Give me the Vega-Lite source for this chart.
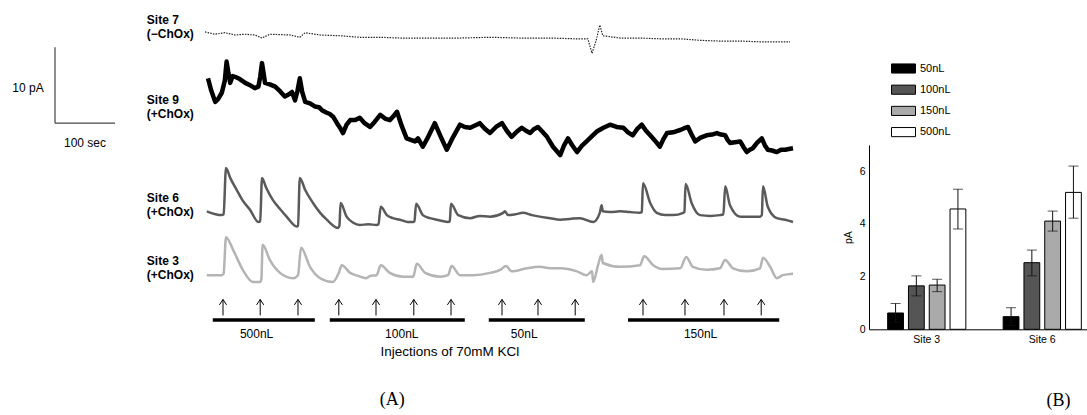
{
  "$schema": "https://vega.github.io/schema/vega-lite/v6.json",
  "padding": 0,
  "autosize": {"type": "pad"},
  "background": "white",
  "config": {"view": {"stroke": null}, "font": "Liberation Sans"},
  "datasets": {
    "traces": [
      {"site":"Site 7","t":0,"pA":50.4},{"site":"Site 7","t":17,"pA":50.1},{"site":"Site 7","t":33,"pA":50.3},{"site":"Site 7","t":50,"pA":50.0},{"site":"Site 7","t":67,"pA":50.1},{"site":"Site 7","t":83,"pA":50.0},{"site":"Site 7","t":95,"pA":49.6},{"site":"Site 7","t":108,"pA":50.1},{"site":"Site 7","t":142,"pA":50.0},{"site":"Site 7","t":158,"pA":49.7},{"site":"Site 7","t":167,"pA":50.3},{"site":"Site 7","t":192,"pA":50.0},{"site":"Site 7","t":225,"pA":49.9},{"site":"Site 7","t":258,"pA":49.7},{"site":"Site 7","t":292,"pA":49.7},{"site":"Site 7","t":325,"pA":49.6},{"site":"Site 7","t":375,"pA":49.6},{"site":"Site 7","t":425,"pA":49.6},{"site":"Site 7","t":475,"pA":49.7},{"site":"Site 7","t":525,"pA":49.6},{"site":"Site 7","t":575,"pA":49.6},{"site":"Site 7","t":617,"pA":49.5},{"site":"Site 7","t":638,"pA":49.5},{"site":"Site 7","t":645,"pA":47.6},{"site":"Site 7","t":652,"pA":49.3},{"site":"Site 7","t":658,"pA":51.3},{"site":"Site 7","t":663,"pA":49.9},{"site":"Site 7","t":692,"pA":49.6},{"site":"Site 7","t":725,"pA":49.6},{"site":"Site 7","t":758,"pA":49.5},{"site":"Site 7","t":792,"pA":49.5},{"site":"Site 7","t":825,"pA":49.3},{"site":"Site 7","t":858,"pA":49.2},{"site":"Site 7","t":892,"pA":49.2},{"site":"Site 7","t":925,"pA":49.1},{"site":"Site 7","t":950,"pA":49.1},{"site":"Site 7","t":975,"pA":49.1},
      {"site":"Site 9","t":5,"pA":44.3},{"site":"Site 9","t":10,"pA":42.8},{"site":"Site 9","t":17,"pA":41.2},{"site":"Site 9","t":22,"pA":41.6},{"site":"Site 9","t":28,"pA":42.4},{"site":"Site 9","t":33,"pA":44.0},{"site":"Site 9","t":36,"pA":46.5},{"site":"Site 9","t":39,"pA":45.0},{"site":"Site 9","t":42,"pA":43.7},{"site":"Site 9","t":46,"pA":44.6},{"site":"Site 9","t":50,"pA":44.5},{"site":"Site 9","t":58,"pA":44.2},{"site":"Site 9","t":67,"pA":43.7},{"site":"Site 9","t":75,"pA":43.4},{"site":"Site 9","t":83,"pA":43.0},{"site":"Site 9","t":89,"pA":43.2},{"site":"Site 9","t":92,"pA":44.5},{"site":"Site 9","t":95,"pA":46.3},{"site":"Site 9","t":98,"pA":44.8},{"site":"Site 9","t":100,"pA":43.7},{"site":"Site 9","t":108,"pA":43.5},{"site":"Site 9","t":117,"pA":43.2},{"site":"Site 9","t":125,"pA":42.6},{"site":"Site 9","t":133,"pA":41.9},{"site":"Site 9","t":140,"pA":42.2},{"site":"Site 9","t":145,"pA":42.5},{"site":"Site 9","t":150,"pA":41.4},{"site":"Site 9","t":154,"pA":42.6},{"site":"Site 9","t":158,"pA":44.3},{"site":"Site 9","t":162,"pA":42.5},{"site":"Site 9","t":167,"pA":41.2},{"site":"Site 9","t":175,"pA":41.0},{"site":"Site 9","t":183,"pA":40.6},{"site":"Site 9","t":190,"pA":40.5},{"site":"Site 9","t":195,"pA":40.1},{"site":"Site 9","t":202,"pA":39.8},{"site":"Site 9","t":208,"pA":39.6},{"site":"Site 9","t":214,"pA":39.2},{"site":"Site 9","t":220,"pA":38.4},{"site":"Site 9","t":225,"pA":37.8},{"site":"Site 9","t":230,"pA":37.1},{"site":"Site 9","t":236,"pA":38.2},{"site":"Site 9","t":242,"pA":38.8},{"site":"Site 9","t":250,"pA":38.8},{"site":"Site 9","t":258,"pA":39.1},{"site":"Site 9","t":266,"pA":38.4},{"site":"Site 9","t":275,"pA":37.9},{"site":"Site 9","t":283,"pA":38.6},{"site":"Site 9","t":292,"pA":39.5},{"site":"Site 9","t":300,"pA":39.0},{"site":"Site 9","t":308,"pA":38.8},{"site":"Site 9","t":314,"pA":39.3},{"site":"Site 9","t":320,"pA":39.9},{"site":"Site 9","t":328,"pA":38.0},{"site":"Site 9","t":336,"pA":36.4},{"site":"Site 9","t":343,"pA":36.2},{"site":"Site 9","t":350,"pA":36.0},{"site":"Site 9","t":355,"pA":36.4},{"site":"Site 9","t":363,"pA":35.3},{"site":"Site 9","t":372,"pA":36.6},{"site":"Site 9","t":383,"pA":38.4},{"site":"Site 9","t":393,"pA":36.6},{"site":"Site 9","t":403,"pA":34.9},{"site":"Site 9","t":413,"pA":36.5},{"site":"Site 9","t":425,"pA":38.2},{"site":"Site 9","t":433,"pA":37.9},{"site":"Site 9","t":442,"pA":37.8},{"site":"Site 9","t":450,"pA":38.1},{"site":"Site 9","t":458,"pA":38.4},{"site":"Site 9","t":466,"pA":37.7},{"site":"Site 9","t":475,"pA":37.1},{"site":"Site 9","t":485,"pA":37.9},{"site":"Site 9","t":495,"pA":38.4},{"site":"Site 9","t":503,"pA":37.4},{"site":"Site 9","t":511,"pA":36.6},{"site":"Site 9","t":520,"pA":37.3},{"site":"Site 9","t":528,"pA":37.8},{"site":"Site 9","t":535,"pA":37.4},{"site":"Site 9","t":542,"pA":37.1},{"site":"Site 9","t":548,"pA":37.6},{"site":"Site 9","t":555,"pA":37.9},{"site":"Site 9","t":562,"pA":37.3},{"site":"Site 9","t":570,"pA":36.6},{"site":"Site 9","t":580,"pA":35.3},{"site":"Site 9","t":592,"pA":34.2},{"site":"Site 9","t":598,"pA":35.4},{"site":"Site 9","t":605,"pA":36.4},{"site":"Site 9","t":612,"pA":35.5},{"site":"Site 9","t":620,"pA":34.6},{"site":"Site 9","t":628,"pA":35.4},{"site":"Site 9","t":636,"pA":36.0},{"site":"Site 9","t":645,"pA":36.7},{"site":"Site 9","t":653,"pA":37.3},{"site":"Site 9","t":664,"pA":37.8},{"site":"Site 9","t":675,"pA":38.2},{"site":"Site 9","t":686,"pA":37.9},{"site":"Site 9","t":697,"pA":37.8},{"site":"Site 9","t":705,"pA":37.2},{"site":"Site 9","t":713,"pA":36.8},{"site":"Site 9","t":720,"pA":37.6},{"site":"Site 9","t":728,"pA":38.2},{"site":"Site 9","t":735,"pA":37.4},{"site":"Site 9","t":742,"pA":36.8},{"site":"Site 9","t":750,"pA":36.1},{"site":"Site 9","t":758,"pA":35.3},{"site":"Site 9","t":764,"pA":36.3},{"site":"Site 9","t":770,"pA":37.1},{"site":"Site 9","t":780,"pA":37.2},{"site":"Site 9","t":792,"pA":37.5},{"site":"Site 9","t":798,"pA":37.7},{"site":"Site 9","t":805,"pA":37.9},{"site":"Site 9","t":811,"pA":36.9},{"site":"Site 9","t":817,"pA":36.0},{"site":"Site 9","t":826,"pA":36.5},{"site":"Site 9","t":836,"pA":36.8},{"site":"Site 9","t":845,"pA":36.9},{"site":"Site 9","t":853,"pA":37.1},{"site":"Site 9","t":860,"pA":36.9},{"site":"Site 9","t":867,"pA":36.8},{"site":"Site 9","t":871,"pA":36.2},{"site":"Site 9","t":875,"pA":35.8},{"site":"Site 9","t":883,"pA":35.9},{"site":"Site 9","t":892,"pA":36.0},{"site":"Site 9","t":898,"pA":35.2},{"site":"Site 9","t":903,"pA":34.6},{"site":"Site 9","t":908,"pA":34.9},{"site":"Site 9","t":913,"pA":35.1},{"site":"Site 9","t":920,"pA":35.8},{"site":"Site 9","t":928,"pA":36.4},{"site":"Site 9","t":933,"pA":35.5},{"site":"Site 9","t":938,"pA":34.9},{"site":"Site 9","t":945,"pA":34.8},{"site":"Site 9","t":953,"pA":34.6},{"site":"Site 9","t":960,"pA":34.9},{"site":"Site 9","t":967,"pA":34.9},{"site":"Site 9","t":973,"pA":35.0},{"site":"Site 9","t":980,"pA":35.1},
      {"site":"Site 6","t":3,"pA":26.8},{"site":"Site 6","t":28,"pA":26.3},{"site":"Site 6","t":31,"pA":26.4},{"site":"Site 6","t":35,"pA":32.5},{"site":"Site 6","t":42,"pA":31.2},{"site":"Site 6","t":53,"pA":29.6},{"site":"Site 6","t":63,"pA":28.2},{"site":"Site 6","t":75,"pA":27.0},{"site":"Site 6","t":89,"pA":25.4},{"site":"Site 6","t":92,"pA":25.5},{"site":"Site 6","t":95,"pA":31.2},{"site":"Site 6","t":102,"pA":29.9},{"site":"Site 6","t":113,"pA":28.3},{"site":"Site 6","t":125,"pA":27.1},{"site":"Site 6","t":136,"pA":26.1},{"site":"Site 6","t":153,"pA":24.8},{"site":"Site 6","t":155,"pA":24.9},{"site":"Site 6","t":158,"pA":31.2},{"site":"Site 6","t":167,"pA":29.6},{"site":"Site 6","t":180,"pA":27.9},{"site":"Site 6","t":192,"pA":26.6},{"site":"Site 6","t":203,"pA":25.7},{"site":"Site 6","t":222,"pA":24.6},{"site":"Site 6","t":224,"pA":24.9},{"site":"Site 6","t":226,"pA":27.9},{"site":"Site 6","t":236,"pA":26.1},{"site":"Site 6","t":247,"pA":25.3},{"site":"Site 6","t":258,"pA":25.0},{"site":"Site 6","t":272,"pA":25.1},{"site":"Site 6","t":286,"pA":25.0},{"site":"Site 6","t":289,"pA":25.1},{"site":"Site 6","t":293,"pA":27.4},{"site":"Site 6","t":303,"pA":26.3},{"site":"Site 6","t":313,"pA":25.9},{"site":"Site 6","t":325,"pA":25.7},{"site":"Site 6","t":338,"pA":25.4},{"site":"Site 6","t":347,"pA":25.4},{"site":"Site 6","t":349,"pA":25.5},{"site":"Site 6","t":352,"pA":27.8},{"site":"Site 6","t":363,"pA":26.3},{"site":"Site 6","t":375,"pA":25.9},{"site":"Site 6","t":386,"pA":25.7},{"site":"Site 6","t":405,"pA":25.4},{"site":"Site 6","t":408,"pA":25.5},{"site":"Site 6","t":410,"pA":27.8},{"site":"Site 6","t":422,"pA":26.3},{"site":"Site 6","t":442,"pA":25.9},{"site":"Site 6","t":458,"pA":26.2},{"site":"Site 6","t":475,"pA":26.1},{"site":"Site 6","t":497,"pA":26.6},{"site":"Site 6","t":500,"pA":26.8},{"site":"Site 6","t":505,"pA":26.3},{"site":"Site 6","t":517,"pA":26.4},{"site":"Site 6","t":530,"pA":26.6},{"site":"Site 6","t":545,"pA":26.3},{"site":"Site 6","t":558,"pA":26.1},{"site":"Site 6","t":575,"pA":25.9},{"site":"Site 6","t":592,"pA":25.7},{"site":"Site 6","t":608,"pA":25.8},{"site":"Site 6","t":625,"pA":25.9},{"site":"Site 6","t":647,"pA":25.4},{"site":"Site 6","t":658,"pA":26.6},{"site":"Site 6","t":661,"pA":27.6},{"site":"Site 6","t":663,"pA":26.8},{"site":"Site 6","t":675,"pA":26.7},{"site":"Site 6","t":692,"pA":26.8},{"site":"Site 6","t":708,"pA":26.7},{"site":"Site 6","t":725,"pA":26.6},{"site":"Site 6","t":728,"pA":26.7},{"site":"Site 6","t":730,"pA":30.5},{"site":"Site 6","t":742,"pA":27.9},{"site":"Site 6","t":753,"pA":26.6},{"site":"Site 6","t":767,"pA":26.3},{"site":"Site 6","t":780,"pA":26.3},{"site":"Site 6","t":797,"pA":26.6},{"site":"Site 6","t":799,"pA":26.7},{"site":"Site 6","t":801,"pA":30.4},{"site":"Site 6","t":811,"pA":27.9},{"site":"Site 6","t":825,"pA":26.3},{"site":"Site 6","t":842,"pA":26.2},{"site":"Site 6","t":858,"pA":26.3},{"site":"Site 6","t":864,"pA":26.4},{"site":"Site 6","t":867,"pA":30.1},{"site":"Site 6","t":875,"pA":27.6},{"site":"Site 6","t":892,"pA":26.1},{"site":"Site 6","t":908,"pA":26.1},{"site":"Site 6","t":925,"pA":26.1},{"site":"Site 6","t":928,"pA":26.3},{"site":"Site 6","t":930,"pA":30.1},{"site":"Site 6","t":938,"pA":27.4},{"site":"Site 6","t":953,"pA":25.9},{"site":"Site 6","t":967,"pA":25.7},{"site":"Site 6","t":980,"pA":25.4},
      {"site":"Site 3","t":3,"pA":18.4},{"site":"Site 3","t":28,"pA":18.4},{"site":"Site 3","t":31,"pA":18.6},{"site":"Site 3","t":35,"pA":23.4},{"site":"Site 3","t":47,"pA":21.7},{"site":"Site 3","t":63,"pA":19.1},{"site":"Site 3","t":80,"pA":17.5},{"site":"Site 3","t":92,"pA":17.5},{"site":"Site 3","t":94,"pA":17.9},{"site":"Site 3","t":96,"pA":22.4},{"site":"Site 3","t":108,"pA":20.4},{"site":"Site 3","t":125,"pA":18.7},{"site":"Site 3","t":147,"pA":18.0},{"site":"Site 3","t":155,"pA":18.4},{"site":"Site 3","t":160,"pA":22.0},{"site":"Site 3","t":175,"pA":19.5},{"site":"Site 3","t":192,"pA":18.0},{"site":"Site 3","t":213,"pA":17.5},{"site":"Site 3","t":223,"pA":18.7},{"site":"Site 3","t":228,"pA":19.7},{"site":"Site 3","t":242,"pA":18.7},{"site":"Site 3","t":255,"pA":18.3},{"site":"Site 3","t":269,"pA":18.0},{"site":"Site 3","t":275,"pA":18.3},{"site":"Site 3","t":286,"pA":18.4},{"site":"Site 3","t":293,"pA":19.7},{"site":"Site 3","t":308,"pA":18.7},{"site":"Site 3","t":330,"pA":18.2},{"site":"Site 3","t":347,"pA":18.2},{"site":"Site 3","t":353,"pA":19.9},{"site":"Site 3","t":367,"pA":18.7},{"site":"Site 3","t":392,"pA":18.2},{"site":"Site 3","t":405,"pA":18.4},{"site":"Site 3","t":411,"pA":19.6},{"site":"Site 3","t":425,"pA":18.4},{"site":"Site 3","t":447,"pA":18.4},{"site":"Site 3","t":475,"pA":18.7},{"site":"Site 3","t":492,"pA":19.1},{"site":"Site 3","t":502,"pA":19.6},{"site":"Site 3","t":511,"pA":18.9},{"site":"Site 3","t":536,"pA":19.3},{"site":"Site 3","t":558,"pA":19.5},{"site":"Site 3","t":575,"pA":19.3},{"site":"Site 3","t":592,"pA":19.3},{"site":"Site 3","t":620,"pA":18.9},{"site":"Site 3","t":636,"pA":18.4},{"site":"Site 3","t":645,"pA":18.9},{"site":"Site 3","t":647,"pA":17.5},{"site":"Site 3","t":655,"pA":19.7},{"site":"Site 3","t":661,"pA":21.1},{"site":"Site 3","t":663,"pA":20.0},{"site":"Site 3","t":692,"pA":19.5},{"site":"Site 3","t":725,"pA":19.7},{"site":"Site 3","t":732,"pA":20.9},{"site":"Site 3","t":747,"pA":19.7},{"site":"Site 3","t":763,"pA":19.2},{"site":"Site 3","t":792,"pA":19.3},{"site":"Site 3","t":802,"pA":20.8},{"site":"Site 3","t":813,"pA":19.5},{"site":"Site 3","t":836,"pA":19.1},{"site":"Site 3","t":858,"pA":19.3},{"site":"Site 3","t":867,"pA":20.4},{"site":"Site 3","t":880,"pA":19.3},{"site":"Site 3","t":903,"pA":18.9},{"site":"Site 3","t":925,"pA":19.3},{"site":"Site 3","t":930,"pA":20.7},{"site":"Site 3","t":942,"pA":19.5},{"site":"Site 3","t":953,"pA":18.0},{"site":"Site 3","t":963,"pA":18.4},{"site":"Site 3","t":980,"pA":18.6}
    ],
    "siteLabels": [
      {"label":"Site 7\n(−ChOx)","t":-97,"pA":52.0},
      {"label":"Site 9\n(+ChOx)","t":-97,"pA":41.5},
      {"label":"Site 6\n(+ChOx)","t":-97,"pA":28.6},
      {"label":"Site 3\n(+ChOx)","t":-97,"pA":20.3}
    ],
    "scalebar": [
      {"t":-250,"t2":-250,"pA":38.4,"pA2":48.4},
      {"t":-250,"t2":-150,"pA":38.4,"pA2":38.4}
    ],
    "scaleLabels": [
      {"text":"10 pA","t":-295,"pA":43.0},
      {"text":"100 sec","t":-200,"pA":35.8}
    ],
    "injections": [
      {"dose":"500nL","t":30},{"dose":"500nL","t":92},{"dose":"500nL","t":155},
      {"dose":"100nL","t":223},{"dose":"100nL","t":285},{"dose":"100nL","t":348},{"dose":"100nL","t":410},
      {"dose":"50nL","t":495},{"dose":"50nL","t":555},{"dose":"50nL","t":617},
      {"dose":"150nL","t":730},{"dose":"150nL","t":800},{"dose":"150nL","t":865},{"dose":"150nL","t":927}
    ],
    "series": [
      {"dose":"500nL","start":13,"end":183,"label_t":86},
      {"dose":"100nL","start":208,"end":433,"label_t":328},
      {"dose":"50nL","start":473,"end":633,"label_t":532},
      {"dose":"150nL","start":705,"end":957,"label_t":826}
    ],
    "notes": [
      {"kind":"axis","note":"Injections of 70mM KCl","t":408,"pA":8.3},
      {"kind":"panel","note":"(A)","t":312,"pA":2.0}
    ],
    "bars": [
      {"site":"Site 3","dose":"50nL","mean":0.62,"lo":0.27,"hi":0.98},
      {"site":"Site 3","dose":"100nL","mean":1.65,"lo":1.27,"hi":2.03},
      {"site":"Site 3","dose":"150nL","mean":1.68,"lo":1.43,"hi":1.90},
      {"site":"Site 3","dose":"500nL","mean":4.57,"lo":3.81,"hi":5.32},
      {"site":"Site 6","dose":"50nL","mean":0.48,"lo":0.14,"hi":0.82},
      {"site":"Site 6","dose":"100nL","mean":2.53,"lo":2.03,"hi":3.01},
      {"site":"Site 6","dose":"150nL","mean":4.11,"lo":3.73,"hi":4.49},
      {"site":"Site 6","dose":"500nL","mean":5.20,"lo":4.22,"hi":6.20}
    ]
  },
  "hconcat": [
    {
      "width": 869,
      "height": 415,
      "layer": [
        {
          "data": {"name": "traces"},
          "transform": [{"filter": "datum.site === 'Site 7'"}],
          "mark": {"type": "line", "color": "#222222", "strokeWidth": 1.2, "strokeDash": [1.5, 1.2], "interpolate": "linear"},
          "encoding": {
            "x": {"field": "t", "type": "quantitative", "scale": {"domain": [-341.667, 1106.667], "nice": false, "zero": false}, "axis": null},
            "y": {"field": "pA", "type": "quantitative", "scale": {"domain": [0, 54.605], "nice": false, "zero": false}, "axis": null}
          }
        },
        {
          "data": {"name": "traces"},
          "transform": [{"filter": "datum.site === 'Site 9'"}],
          "mark": {"type": "line", "color": "#000000", "strokeWidth": 4.5, "strokeJoin": "round"},
          "encoding": {
            "x": {"field": "t", "type": "quantitative"},
            "y": {"field": "pA", "type": "quantitative"}
          }
        },
        {
          "data": {"name": "traces"},
          "transform": [{"filter": "datum.site === 'Site 6'"}],
          "mark": {"type": "line", "color": "#5a5a5a", "strokeWidth": 2.5, "strokeJoin": "round", "interpolate": "monotone"},
          "encoding": {
            "x": {"field": "t", "type": "quantitative"},
            "y": {"field": "pA", "type": "quantitative"}
          }
        },
        {
          "data": {"name": "traces"},
          "transform": [{"filter": "datum.site === 'Site 3'"}],
          "mark": {"type": "line", "color": "#b4b4b4", "strokeWidth": 2.5, "strokeJoin": "round", "interpolate": "monotone"},
          "encoding": {
            "x": {"field": "t", "type": "quantitative"},
            "y": {"field": "pA", "type": "quantitative"}
          }
        },
        {
          "data": {"name": "siteLabels"},
          "mark": {"type": "text", "align": "left", "baseline": "middle", "fontWeight": "bold", "fontSize": 12, "lineBreak": "\n", "lineHeight": 14, "color": "#000"},
          "encoding": {
            "x": {"field": "t", "type": "quantitative"},
            "y": {"field": "pA", "type": "quantitative"},
            "text": {"field": "label"}
          }
        },
        {
          "data": {"name": "scalebar"},
          "mark": {"type": "rule", "color": "#444444", "strokeWidth": 1.2},
          "encoding": {
            "x": {"field": "t", "type": "quantitative"},
            "x2": {"field": "t2"},
            "y": {"field": "pA", "type": "quantitative"},
            "y2": {"field": "pA2"}
          }
        },
        {
          "data": {"name": "scaleLabels"},
          "mark": {"type": "text", "align": "center", "baseline": "middle", "fontSize": 12, "color": "#000"},
          "encoding": {
            "x": {"field": "t", "type": "quantitative"},
            "y": {"field": "pA", "type": "quantitative"},
            "text": {"field": "text"}
          }
        },
        {
          "data": {"name": "injections"},
          "mark": {"type": "rule", "color": "#000", "strokeWidth": 1},
          "encoding": {
            "x": {"field": "t", "type": "quantitative"},
            "y": {"datum": 13.1},
            "y2": {"datum": 15.2}
          }
        },
        {
          "data": {"name": "injections"},
          "mark": {"type": "point", "shape": "M-0.6,0.9L0,0L0.6,0.9", "filled": false, "size": 144, "color": "#000", "strokeWidth": 1, "opacity": 1},
          "encoding": {
            "x": {"field": "t", "type": "quantitative"},
            "y": {"datum": 15.2}
          }
        },
        {
          "data": {"name": "series"},
          "mark": {"type": "rule", "color": "#000", "strokeWidth": 3.5},
          "encoding": {
            "x": {"field": "start", "type": "quantitative"},
            "x2": {"field": "end"},
            "y": {"datum": 12.5}
          }
        },
        {
          "data": {"name": "series"},
          "mark": {"type": "text", "align": "center", "baseline": "middle", "fontSize": 12, "color": "#000"},
          "encoding": {
            "x": {"field": "label_t", "type": "quantitative"},
            "y": {"datum": 10.7},
            "text": {"field": "dose"}
          }
        },
        {
          "data": {"name": "notes"},
          "transform": [{"filter": "datum.kind === 'axis'"}],
          "mark": {"type": "text", "align": "center", "baseline": "middle", "fontSize": 13.5, "color": "#000"},
          "encoding": {
            "x": {"field": "t", "type": "quantitative"},
            "y": {"field": "pA", "type": "quantitative"},
            "text": {"field": "note"}
          }
        },
        {
          "data": {"name": "notes"},
          "transform": [{"filter": "datum.kind === 'panel'"}],
          "mark": {"type": "text", "align": "center", "baseline": "middle", "fontSize": 18, "font": "Liberation Serif", "color": "#000"},
          "encoding": {
            "x": {"field": "t", "type": "quantitative"},
            "y": {"field": "pA", "type": "quantitative"},
            "text": {"field": "note"}
          }
        }
      ]
    },
    {
      "vconcat": [
        {
          "width": 231,
          "height": 145,
          "data": {"values": []},
          "mark": "point"
        },
        {
          "width": 231,
          "height": 184.3,
          "data": {"name": "bars"},
          "encoding": {
            "x": {
              "field": "site", "type": "nominal",
              "scale": {"paddingInner": 0.28, "paddingOuter": 0.14},
              "axis": {
                "title": "(B)", "labelAngle": 0, "ticks": false, "domainColor": "#000", "domainWidth": 1,
                "labelFontSize": 10.5, "labelColor": "#000", "labelPadding": 5,
                "titleFont": "Liberation Serif", "titleFontSize": 18, "titleFontWeight": "normal", "titleColor": "#000",
                "titleX": 189, "titleY": 71, "titleAlign": "center", "titleBaseline": "middle"
              }
            },
            "xOffset": {
              "field": "dose", "type": "nominal",
              "sort": ["50nL", "100nL", "150nL", "500nL"],
              "scale": {"domain": ["50nL", "100nL", "150nL", "500nL"], "paddingInner": 0.24, "paddingOuter": 0.12}
            }
          },
          "layer": [
            {
              "mark": {"type": "bar", "stroke": "#000", "strokeWidth": 1},
              "encoding": {
                "y": {
                  "field": "mean", "type": "quantitative",
                  "scale": {"domain": [0, 7], "nice": false},
                  "axis": {
                    "title": "pA", "values": [0, 2, 4, 6], "grid": false, "ticks": false,
                    "domainColor": "#000", "labelFontSize": 10.5, "labelColor": "#000", "labelPadding": 4,
                    "titleFontSize": 10.5, "titleFontWeight": "normal", "titleColor": "#000", "titlePadding": 6
                  }
                },
                "fill": {
                  "field": "dose", "type": "nominal",
                  "scale": {"domain": ["50nL", "100nL", "150nL", "500nL"], "range": ["#000000", "#555555", "#aaaaaa", "#ffffff"]},
                  "legend": {
                    "orient": "none", "legendX": 897, "legendY": 62, "title": null,
                    "symbolType": "M-2,-0.76H2V0.76H-2Z", "symbolSize": 144,
                    "symbolStrokeColor": "#000", "symbolStrokeWidth": 1,
                    "labelFontSize": 11, "labelColor": "#000", "labelOffset": 10, "rowPadding": 6.2
                  }
                }
              }
            },
            {
              "mark": {"type": "rule", "color": "#111", "strokeWidth": 1},
              "encoding": {
                "y": {"field": "lo", "type": "quantitative"},
                "y2": {"field": "hi"}
              }
            },
            {
              "mark": {"type": "tick", "color": "#111", "size": 10, "thickness": 1},
              "encoding": {"y": {"field": "lo", "type": "quantitative"}}
            },
            {
              "mark": {"type": "tick", "color": "#111", "size": 10, "thickness": 1},
              "encoding": {"y": {"field": "hi", "type": "quantitative"}}
            }
          ]
        }
      ],
      "spacing": 0,
      "bounds": "flush"
    }
  ],
  "spacing": 0,
  "bounds": "flush"
}
